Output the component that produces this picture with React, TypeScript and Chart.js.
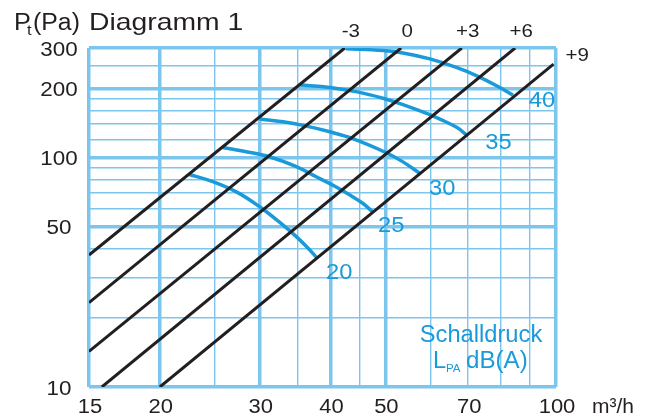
import React, { useEffect, useRef } from 'react';
import { Chart, registerables } from 'chart.js';

Chart.register(...registerables);

// ---- axis ticks and grid ----
const xTickValues = [15, 20, 30, 40, 50, 70, 100];
const xTickLabels = ['15', '20', '30', '40', '50', '70', '100'];
const yTickValues = [300, 200, 100, 50, 10];
const yTickLabels = ['300', '200', '100', '50', '10'];
const xGridMajor = [15, 20, 30, 40, 50, 100];
const xGridMinor = [25, 35, 45, 60, 70, 80, 90];
const yGridMajor = [10, 50, 100, 200, 300];
const yGridMinor = [20, 30, 40, 60, 70, 80, 90, 120, 140, 160, 180, 250];

// ---- damper setting lines (black), flow m³/h and pressure Pa ----
const damperLabels = ['-3', '0', '+3', '+6', '+9'];
const damperM3Q = [15, 42.4];
const damperM3P = [37.6, 300];
const damper0Q = [15, 53.3];
const damper0P = [23.3, 300];
const damperP3Q = [15, 68.2];
const damperP3P = [14.3, 300];
const damperP6Q = [15.8, 84.7];
const damperP6P = [10, 300];
const damperP9Q = [20, 99];
const damperP9P = [10, 255];

// ---- sound pressure curves (blue), LPA dB(A) ----
const soundLabels = ['20', '25', '30', '35', '40'];
const sound20Q = [22.5, 24.8, 27.4, 30, 32.6, 34.9, 36.6, 37.9];
const sound20P = [84.5, 78.5, 70.5, 61, 52, 45, 40, 36.5];
const sound25Q = [25.8, 28, 31.3, 34.9, 37.9, 41.1, 43.3, 45.6, 47.4];
const sound25P = [110.5, 106.7, 100.5, 91, 82, 74, 68.6, 63.2, 58.2];
const sound30Q = [30, 33, 35.8, 39.9, 43.8, 50.3, 53.7, 57.6];
const sound30P = [147.2, 143, 138, 129.4, 120.8, 104.6, 95.7, 85.1];
const sound35Q = [35.3, 39.9, 44.6, 49.5, 53.7, 59.9, 62.4, 66.9, 69.5];
const sound35P = [206.9, 202, 193.2, 181.3, 170, 153.7, 147, 135, 125.5];
const sound40Q = [42.6, 49.5, 53.7, 59.9, 66.9, 72.5, 78.7, 84];
const sound40P = [298, 292.3, 285.4, 268.9, 246.4, 226.8, 204.9, 187];

const damperSeries = [
  [damperM3Q, damperM3P],
  [damper0Q, damper0P],
  [damperP3Q, damperP3P],
  [damperP6Q, damperP6P],
  [damperP9Q, damperP9P],
];
const soundSeries = [
  [sound20Q, sound20P],
  [sound25Q, sound25P],
  [sound30Q, sound30P],
  [sound35Q, sound35P],
  [sound40Q, sound40P],
];

const toPoints = (q: number[], p: number[]) => q.map((v, i) => ({ x: v, y: p[i] }));

const FONT = '"Liberation Sans", Arial, sans-serif';
const BLACK = '#231f20';
const BLUE = '#1a9ad9';
const GRID = '#7cc6ee';

function txt(
  ctx: CanvasRenderingContext2D,
  s: string,
  x: number,
  y: number,
  size: number,
  color: string,
  align: 'left' | 'center' | 'right' = 'left',
  baseline: CanvasTextBaseline = 'alphabetic',
  sx = 1.1
) {
  ctx.font = `${size}px ${FONT}`;
  const w = ctx.measureText(s).width * sx;
  const x0 = align === 'center' ? x - w / 2 : align === 'right' ? x - w : x;
  ctx.save();
  ctx.translate(x0, y);
  ctx.scale(sx, 1);
  ctx.textAlign = 'left';
  ctx.textBaseline = baseline;
  ctx.fillStyle = color;
  ctx.fillText(s, 0, 0);
  ctx.restore();
  return w;
}

const textPlugin = {
  id: 'diagramTexts',
  afterDraw(chart: any) {
    const ctx: CanvasRenderingContext2D = chart.ctx;
    const xs = chart.scales.x;
    const ys = chart.scales.y;
    const area = chart.chartArea;

    // title
    txt(ctx, 'P', 14, 30, 23, BLACK, 'left', 'alphabetic', 1.1);
    txt(ctx, 't', 27, 35, 15, BLACK, 'left', 'alphabetic', 1.1);
    txt(ctx, '(Pa)', 33, 30, 23, BLACK, 'left', 'alphabetic', 1.08);
    txt(ctx, 'Diagramm 1', 89, 30, 24, BLACK, 'left', 'alphabetic', 1.18);

    // y tick labels
    yTickValues.forEach((v, i) => {
      txt(ctx, yTickLabels[i], 59, ys.getPixelForValue(v) + 2, 20, BLACK, 'center', 'middle', 1.12);
    });
    // x tick labels
    xTickValues.forEach((v, i) => {
      txt(ctx, xTickLabels[i], xs.getPixelForValue(v) + 1, area.bottom + 26, 20, BLACK, 'center', 'alphabetic', 1.1);
    });
    txt(ctx, 'm³/h', area.right + 36, area.bottom + 26, 20, BLACK, 'left', 'alphabetic', 1.05);

    // damper labels
    damperSeries.forEach(([q, p], i) => {
      const ex = xs.getPixelForValue(q[q.length - 1]);
      const ey = ys.getPixelForValue(p[p.length - 1]);
      if (i < damperSeries.length - 1) {
        txt(ctx, damperLabels[i], ex + 6, area.top - 11, 19, BLACK, 'center', 'alphabetic', 1.08);
      } else {
        txt(ctx, damperLabels[i], ex + 12, ey - 3, 19, BLACK, 'left', 'alphabetic', 1.08);
      }
    });

    // sound labels
    const offs = [
      [22, 15],
      [19, 14],
      [22, 15],
      [32, 8],
      [29, 6],
    ];
    soundSeries.forEach(([q, p], i) => {
      const ex = xs.getPixelForValue(q[q.length - 1]);
      const ey = ys.getPixelForValue(p[p.length - 1]);
      txt(ctx, soundLabels[i], ex + offs[i][0], ey + offs[i][1], 22, BLUE, 'center', 'middle', 1.08);
    });

    // legend text
    txt(ctx, 'Schalldruck', 481, 342, 23, BLUE, 'center', 'alphabetic', 1.03);
    txt(ctx, 'L', 433, 368, 23, BLUE, 'left', 'alphabetic', 1.03);
    txt(ctx, 'PA', 446, 372, 11, BLUE, 'left', 'alphabetic', 1.05);
    txt(ctx, 'dB(A)', 466, 368, 23, BLUE, 'left', 'alphabetic', 1.05);
  },
};

export default function App() {
  const ref = useRef<HTMLCanvasElement | null>(null);

  useEffect(() => {
    if (!ref.current) return;
    const datasets: any[] = [];
    damperSeries.forEach(([q, p], i) => {
      datasets.push({
        label: 'Stellung ' + damperLabels[i],
        data: toPoints(q, p),
        showLine: true,
        borderColor: BLACK,
        borderWidth: 3,
        pointRadius: 0,
        order: 0,
      });
    });
    soundSeries.forEach(([q, p], i) => {
      datasets.push({
        label: soundLabels[i] + ' dB(A)',
        data: toPoints(q, p),
        showLine: true,
        borderColor: BLUE,
        borderWidth: 3.5,
        pointRadius: 0,
        tension: 0.4,
        order: 1,
      });
    });

    const xAll = [...xGridMajor, ...xGridMinor].sort((a, b) => a - b);
    const yAll = [...yGridMajor, ...yGridMinor].sort((a, b) => a - b);

    const chart = new Chart(ref.current, {
      type: 'scatter',
      data: { datasets },
      options: {
        animation: false,
        responsive: false,
        maintainAspectRatio: false,
        layout: { padding: { left: 89, right: 96, top: 48, bottom: 31 } },
        plugins: { legend: { display: false }, tooltip: { enabled: false } },
        scales: {
          x: {
            type: 'logarithmic',
            min: 15,
            max: 100,
            afterBuildTicks: (axis: any) => {
              axis.ticks = xAll.map((v) => ({ value: v }));
            },
            ticks: { display: false },
            border: { display: false },
            grid: {
              drawTicks: false,
              color: GRID,
              lineWidth: (c: any) => (xGridMajor.includes(c.tick?.value) ? 3.5 : 1.4),
            },
          },
          y: {
            type: 'logarithmic',
            min: 10,
            max: 300,
            afterBuildTicks: (axis: any) => {
              axis.ticks = yAll.map((v) => ({ value: v }));
            },
            ticks: { display: false },
            border: { display: false },
            grid: {
              drawTicks: false,
              color: GRID,
              lineWidth: (c: any) => (yGridMajor.includes(c.tick?.value) ? 3.5 : 1.4),
            },
          },
        },
      },
      plugins: [textPlugin],
    } as any);
    return () => chart.destroy();
  }, []);

  return (
    <div style={{ position: 'absolute', left: 0, top: 0, width: 652, height: 418, background: '#fff' }}>
      <canvas ref={ref} width={652} height={418} style={{ width: 652, height: 418, display: 'block' }} />
    </div>
  );
}
